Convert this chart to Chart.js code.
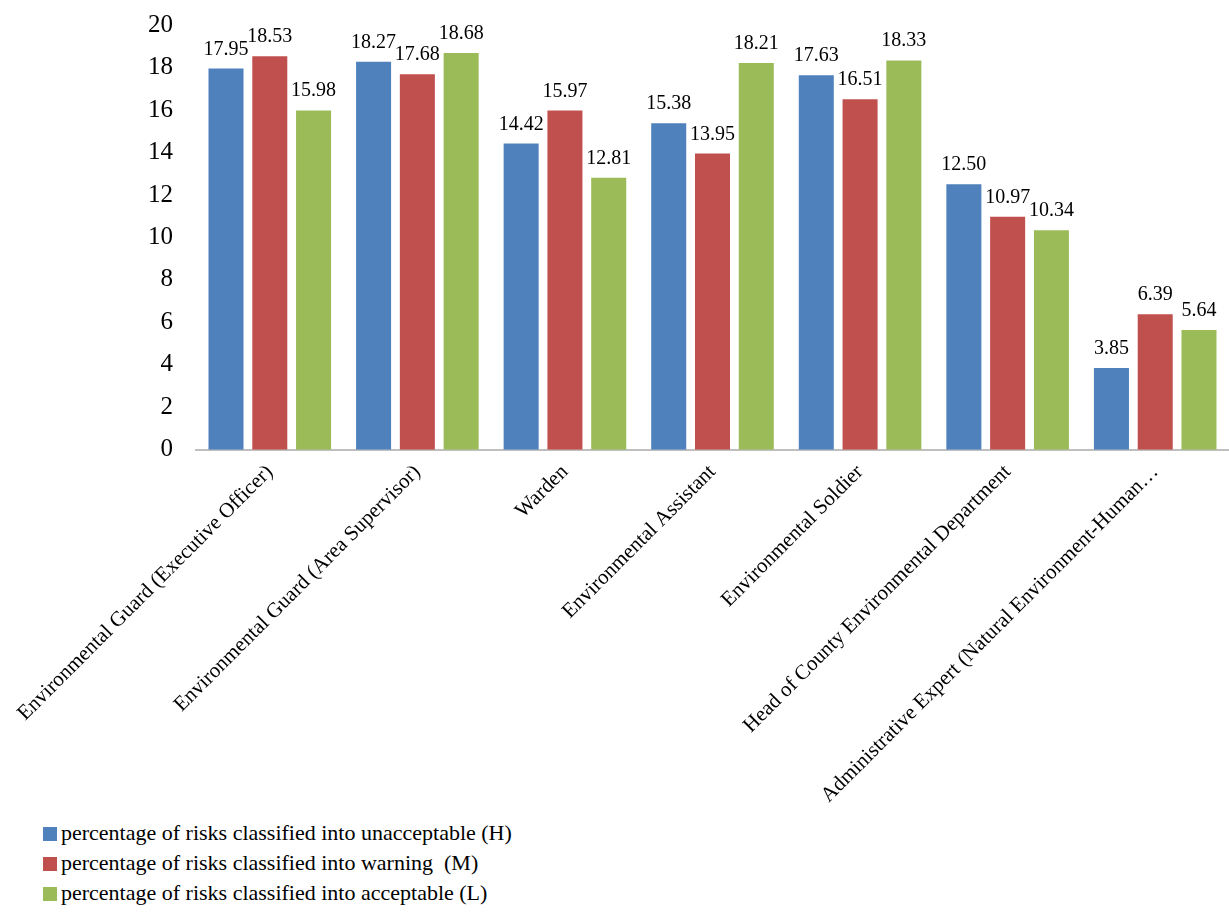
<!DOCTYPE html>
<html>
<head>
<meta charset="utf-8">
<script src="https://cdn.jsdelivr.net/npm/chart.js@4"></script>
<style>
  body { margin: 0; background: #fff; font-family: "Liberation Serif", "Times New Roman", serif; overflow: hidden; }
  #wrap { position: relative; width: 1229px; height: 914px; }
  #chart { position: absolute; left: 0; top: -13px; }
  #legend { position: absolute; left: 43px; top: 818px; font-size: 22px; color: #000; }
  #legend div { height: 30px; line-height: 30px; white-space: pre; }
  #legend span { display: inline-block; width: 14px; height: 14px; margin-right: 4px; vertical-align: -1px; }
</style>
</head>
<body>
<div id="wrap">
  <canvas id="chart" width="1229" height="823"></canvas>
  <div id="legend"></div>
</div>
<script>
const categories = [
  "Environmental Guard (Executive Officer)",
  "Environmental Guard (Area Supervisor)",
  "Warden",
  "Environmental Assistant",
  "Environmental Soldier",
  "Head of County Environmental Department",
  "Administrative Expert (Natural Environment-Human\u2026"
];
const seriesNames = [
  "percentage of risks classified into unacceptable (H)",
  "percentage of risks classified into warning  (M)",
  "percentage of risks classified into acceptable (L)"
];
const highRisk = [17.95, 18.27, 14.42, 15.38, 17.63, 12.50, 3.85];
const warningRisk = [18.53, 17.68, 15.97, 13.95, 16.51, 10.97, 6.39];
const lowRisk = [15.98, 18.68, 12.81, 18.21, 18.33, 10.34, 5.64];
const colors = ["#4F81BD", "#C0504D", "#9BBB59"];

const serif = "'Liberation Serif', 'Times New Roman', serif";

// draw values above each bar
const valueLabels = {
  id: "valueLabels",
  afterDatasetsDraw(chart) {
    const ctx = chart.ctx;
    ctx.save();
    ctx.font = "20px " + serif;
    ctx.fillStyle = "#000";
    ctx.textAlign = "center";
    ctx.textBaseline = "alphabetic";
    chart.data.datasets.forEach((ds, i) => {
      chart.getDatasetMeta(i).data.forEach((bar, j) => {
        ctx.fillText(ds.data[j].toFixed(2), bar.x, bar.y - 14);
      });
    });
    ctx.restore();
  }
};

const chart = new Chart(document.getElementById("chart"), {
  type: "bar",
  data: {
    labels: categories,
    datasets: [highRisk, warningRisk, lowRisk].map((d, i) => ({
      label: seriesNames[i],
      data: d,
      backgroundColor: colors[i],
      categoryPercentage: 0.89,
      barPercentage: 0.8
    }))
  },
  options: {
    responsive: false,
    devicePixelRatio: 1,
    animation: false,
    layout: { padding: { top: 0, right: 0, left: 125, bottom: 0 } },
    plugins: { legend: { display: false }, tooltip: { enabled: false } },
    scales: {
      x: {
        grid: { display: false },
        border: { color: "#BFBFBF", width: 2 },
        ticks: {
          color: "#000",
          font: { family: serif, size: 21 },
          minRotation: 45,
          maxRotation: 45,
          autoSkip: false,
          padding: 2
        }
      },
      y: {
        min: 0,
        max: 20,
        grid: { display: false, drawTicks: false },
        border: { display: false },
        ticks: {
          stepSize: 2,
          color: "#000",
          font: { family: serif, size: 25 },
          padding: 23
        }
      }
    }
  },
  plugins: [valueLabels]
});

document.getElementById("legend").innerHTML = seriesNames
  .map((n, i) => `<div><span style="background:${colors[i]}"></span>${n}</div>`)
  .join("");
</script>
</body>
</html>
